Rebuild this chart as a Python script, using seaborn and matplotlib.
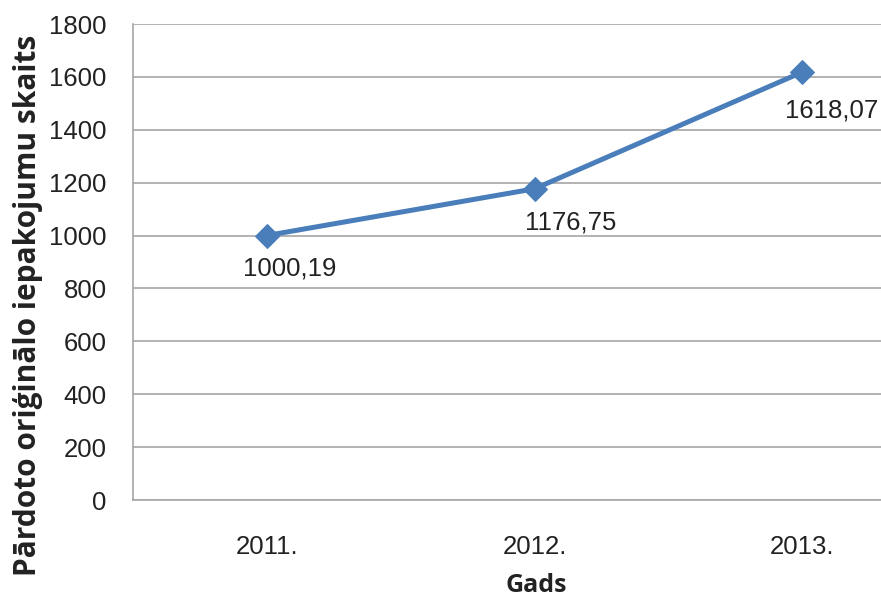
import matplotlib
matplotlib.use("Agg")
import matplotlib.pyplot as plt
import seaborn as sns
import pandas as pd

years = ["2011.", "2012.", "2013."]
packages = [1000.19, 1176.75, 1618.07]
value_labels = ["1000,19", "1176,75", "1618,07"]
y_ticks = [0, 200, 400, 600, 800, 1000, 1200, 1400, 1600, 1800]

sns.set_theme(style="white")
plt.rcParams["font.family"] = ["Liberation Sans", "DejaVu Sans"]

df = pd.DataFrame({"Gads": years, "Skaits": packages})

fig = plt.figure(figsize=(8.81, 6.05), dpi=100)
ax = fig.add_axes([133 / 881, 1 - 500 / 605, (936 - 133) / 881, (500 - 24) / 605])

sns.lineplot(data=df, x="Gads", y="Skaits", ax=ax, color="#4a7ebb", linewidth=3.6,
             marker="D", markersize=12, markeredgecolor="#4a7ebb", sort=False)

ax.set_xlim(-0.5, 2.5)
ax.set_ylim(0, 1800)
ax.set_yticks(y_ticks)
ax.set_yticklabels([str(t) for t in y_ticks])
ax.yaxis.grid(True, color="#a6a6a6", linewidth=1.2)
ax.set_axisbelow(True)
ax.tick_params(axis="both", length=0, labelsize=18.5, colors="#222222")
ax.tick_params(axis="y", pad=19)
ax.tick_params(axis="x", pad=25)

for s in ["top", "right"]:
    ax.spines[s].set_visible(False)
for s in ["left", "bottom"]:
    ax.spines[s].set_color("#a6a6a6")
    ax.spines[s].set_linewidth(1.2)

offsets = [(23, -33), (36, -34), (29, -38)]
for i, (v, lab) in enumerate(zip(packages, value_labels)):
    ax.annotate(lab, xy=(i, v), xytext=offsets[i], textcoords="offset pixels",
                ha="center", va="center", fontsize=18.5, color="#222222")

ax.set_xlabel("")
ax.set_ylabel("")
fig.text(536 / 881, 1 - 586 / 605, "Gads", ha="center", va="center",
         fontsize=18, fontweight="bold", color="#222222",
         family=["Open Sans", "DejaVu Sans"])
fig.text(28 / 881, 1 - 305 / 605, "Pārdoto oriģinālo iepakojumu skaits", rotation=90,
         ha="center", va="center", fontsize=21.5, fontweight="bold", color="#222222",
         family=["Open Sans", "DejaVu Sans"])

fig.savefig("out.png", dpi=100)
